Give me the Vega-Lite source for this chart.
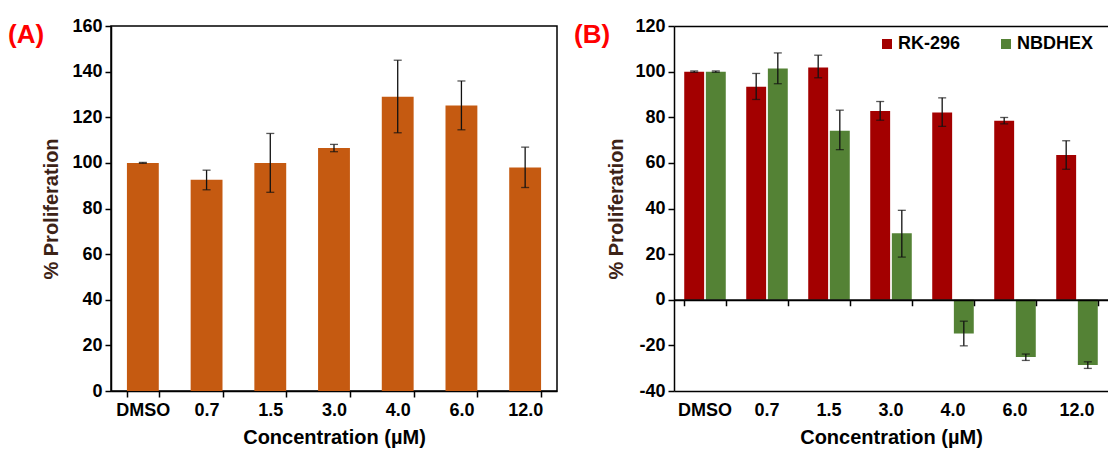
{
  "$schema": "https://vega.github.io/schema/vega-lite/v6.json",
  "background": "white",
  "padding": {"left": 7, "top": 16, "right": 0, "bottom": 0},
  "bounds": "flush",
  "spacing": 117,
  "resolve": {"scale": {"color": "independent"}, "legend": {"color": "independent"}},
  "datasets": {
    "panelA": [
      {"conc": "DMSO", "value": 100, "lo": 99.8, "hi": 100.2},
      {"conc": "0.7", "value": 92.6, "lo": 88.2, "hi": 96.8},
      {"conc": "1.5", "value": 100, "lo": 87.1, "hi": 112.9},
      {"conc": "3.0", "value": 106.5, "lo": 104.9, "hi": 108.1},
      {"conc": "4.0", "value": 129, "lo": 113.2, "hi": 145},
      {"conc": "6.0", "value": 125.2, "lo": 114.5, "hi": 135.9},
      {"conc": "12.0", "value": 98, "lo": 89.2, "hi": 106.9}
    ],
    "panelB": [
      {"conc": "DMSO", "compound": "RK-296", "value": 100, "lo": 99.7, "hi": 100.3},
      {"conc": "0.7", "compound": "RK-296", "value": 93.4, "lo": 87.8, "hi": 99.2},
      {"conc": "1.5", "compound": "RK-296", "value": 101.8, "lo": 97.3, "hi": 107.2},
      {"conc": "3.0", "compound": "RK-296", "value": 82.7, "lo": 78.7, "hi": 86.9},
      {"conc": "4.0", "compound": "RK-296", "value": 82.1, "lo": 76, "hi": 88.5},
      {"conc": "6.0", "compound": "RK-296", "value": 78.5, "lo": 77.1, "hi": 79.9},
      {"conc": "12.0", "compound": "RK-296", "value": 63.5, "lo": 57.2, "hi": 69.7},
      {"conc": "DMSO", "compound": "NBDHEX", "value": 100, "lo": 99.7, "hi": 100.3},
      {"conc": "0.7", "compound": "NBDHEX", "value": 101.4, "lo": 94.7, "hi": 108.2},
      {"conc": "1.5", "compound": "NBDHEX", "value": 74.1, "lo": 65.8, "hi": 83.1},
      {"conc": "3.0", "compound": "NBDHEX", "value": 29.2, "lo": 18.7, "hi": 39.2},
      {"conc": "4.0", "compound": "NBDHEX", "value": -14.8, "lo": -20.2, "hi": -9.4},
      {"conc": "6.0", "compound": "NBDHEX", "value": -25.1, "lo": -26.6, "hi": -23.8},
      {"conc": "12.0", "compound": "NBDHEX", "value": -28.6, "lo": -30.1, "hi": -27.2}
    ]
  },
  "config": {
    "font": "Liberation Sans",
    "view": {"stroke": "#000", "strokeWidth": 1.5},
    "axis": {
      "grid": false,
      "labelFont": "Liberation Sans",
      "labelFontWeight": "bold",
      "labelFontSize": 18,
      "labelColor": "#000",
      "titleFont": "Liberation Sans",
      "titleFontWeight": "bold",
      "titleFontSize": 20,
      "titleColor": "#000",
      "domainColor": "#000",
      "domainWidth": 1.5,
      "tickColor": "#000",
      "tickWidth": 1.5,
      "tickSize": 6
    },
    "title": {
      "font": "Liberation Sans",
      "fontWeight": "bold",
      "fontSize": 26,
      "color": "#FF0000",
      "anchor": "start",
      "frame": "group",
      "offset": -31
    }
  },
  "hconcat": [
    {
      "width": 446,
      "height": 365,
      "title": {"text": "(A)", "dx": -103},
      "data": {"name": "panelA"},
      "encoding": {
        "x": {
          "field": "conc",
          "type": "nominal",
          "sort": ["DMSO", "0.7", "1.5", "3.0", "4.0", "6.0", "12.0"],
          "scale": {"paddingInner": 0.5, "paddingOuter": 0.25},
          "axis": {
            "title": "Concentration (µM)",
            "labelAngle": 0,
            "tickBand": "extent",
            "labelPadding": 4,
            "titlePadding": 8
          }
        }
      },
      "layer": [
        {
          "mark": {"type": "bar", "color": "#C55A11"},
          "encoding": {
            "y": {
              "field": "value",
              "type": "quantitative",
              "scale": {"domain": [0, 160]},
              "axis": {
                "values": [0, 20, 40, 60, 80, 100, 120, 140, 160],
                "title": "% Proliferation",
                "titleColor": "#3d2317",
                "labelPadding": 3,
                "titlePadding": 10
              }
            }
          }
        },
        {
          "mark": {"type": "rule", "color": "#111", "strokeWidth": 1.3},
          "encoding": {
            "y": {"field": "lo", "type": "quantitative"},
            "y2": {"field": "hi"}
          }
        },
        {
          "mark": {"type": "tick", "color": "#111", "size": 8, "thickness": 1.3},
          "encoding": {"y": {"field": "lo", "type": "quantitative"}}
        },
        {
          "mark": {"type": "tick", "color": "#111", "size": 8, "thickness": 1.3},
          "encoding": {"y": {"field": "hi", "type": "quantitative"}}
        }
      ]
    },
    {
      "width": 434,
      "height": 365,
      "view": {"stroke": null},
      "title": {"text": "(B)", "dx": -100},
      "data": {"name": "panelB"},
      "resolve": {"axis": {"x": "independent"}},
      "layer": [
        {
          "mark": {"type": "bar"},
          "encoding": {
            "x": {
              "field": "conc",
              "type": "nominal",
              "sort": ["DMSO", "0.7", "1.5", "3.0", "4.0", "6.0", "12.0"],
              "scale": {"paddingInner": 0.33, "paddingOuter": 0.165},
              "axis": {
                "orient": "bottom",
                "title": "Concentration (µM)",
                "labelAngle": 0,
                "ticks": false,
                "labelPadding": 10,
                "titlePadding": 8
              }
            },
            "xOffset": {
              "field": "compound",
              "type": "nominal",
              "scale": {"domain": ["RK-296", "NBDHEX"], "paddingInner": 0.08}
            },
            "y": {
              "field": "value",
              "type": "quantitative",
              "scale": {"domain": [-40, 120]},
              "axis": {
                "values": [-40, -20, 0, 20, 40, 60, 80, 100, 120],
                "labelExpr": "datum.value < 0 ? '-' + abs(datum.value) : '' + datum.value",
                "title": "% Proliferation",
                "titleColor": "#3d2317",
                "labelPadding": 3,
                "titlePadding": 8
              }
            },
            "color": {
              "field": "compound",
              "type": "nominal",
              "scale": {"domain": ["RK-296", "NBDHEX"], "range": ["#A30000", "#548235"]},
              "legend": {
                "orient": "none",
                "legendX": 204,
                "legendY": 9,
                "direction": "horizontal",
                "gridAlign": "none",
                "title": null,
                "symbolType": "square",
                "symbolSize": 100,
                "symbolStrokeWidth": 0,
                "labelFont": "Liberation Sans",
                "labelFontWeight": "bold",
                "labelFontSize": 18,
                "labelColor": "#000",
                "labelOffset": 2,
                "columnPadding": 36
              }
            }
          }
        },
        {
          "mark": {"type": "rule", "color": "#111", "strokeWidth": 1.3},
          "encoding": {
            "x": {
              "field": "conc",
              "type": "nominal",
              "sort": ["DMSO", "0.7", "1.5", "3.0", "4.0", "6.0", "12.0"],
              "axis": {"orient": "top", "labels": false, "ticks": false, "title": null, "domain": true}
            },
            "xOffset": {"field": "compound", "type": "nominal"},
            "y": {"field": "lo", "type": "quantitative"},
            "y2": {"field": "hi"}
          }
        },
        {
          "mark": {"type": "tick", "color": "#111", "size": 8, "thickness": 1.3},
          "encoding": {
            "x": {
              "field": "conc",
              "type": "nominal",
              "sort": ["DMSO", "0.7", "1.5", "3.0", "4.0", "6.0", "12.0"],
              "axis": {
                "orient": "bottom",
                "offset": -91.25,
                "zindex": 1,
                "labels": false,
                "ticks": true,
                "tickBand": "extent",
                "title": null,
                "domain": true,
                "domainWidth": 2
              }
            },
            "xOffset": {"field": "compound", "type": "nominal"},
            "y": {"field": "lo", "type": "quantitative"}
          }
        },
        {
          "mark": {"type": "tick", "color": "#111", "size": 8, "thickness": 1.3},
          "encoding": {
            "x": {
              "field": "conc",
              "type": "nominal",
              "sort": ["DMSO", "0.7", "1.5", "3.0", "4.0", "6.0", "12.0"],
              "axis": null
            },
            "xOffset": {"field": "compound", "type": "nominal"},
            "y": {"field": "hi", "type": "quantitative"}
          }
        }
      ]
    }
  ]
}
